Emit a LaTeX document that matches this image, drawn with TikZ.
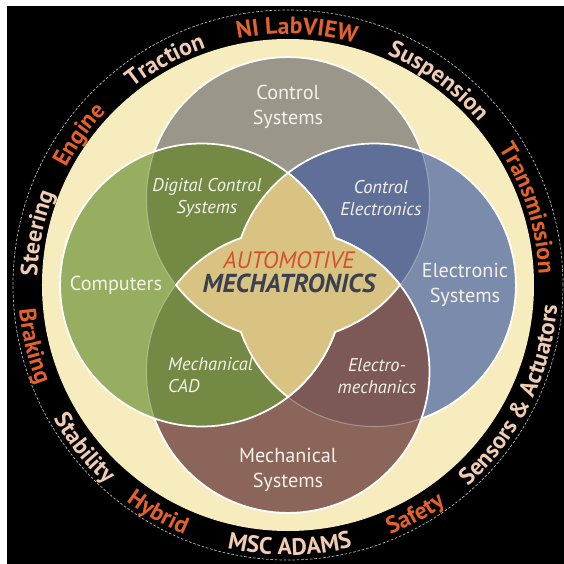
\documentclass[tikz,border=0pt]{standalone}
\usepackage{fontspec}
\setsansfont{PT Sans}
\usetikzlibrary{decorations.text}

\definecolor{ringorange}{RGB}{226,98,46}
\definecolor{ringlight}{RGB}{240,204,178}
\definecolor{cream}{RGB}{246,236,190}
\definecolor{ctrlgray}{RGB}{154,150,138}
\definecolor{compgreen}{RGB}{151,174,97}
\definecolor{darkgreen}{RGB}{116,137,68}
\definecolor{elecblue}{RGB}{123,139,171}
\definecolor{darkblue}{RGB}{95,111,151}
\definecolor{mechbrown}{RGB}{139,101,90}
\definecolor{darkbrown}{RGB}{124,89,86}
\definecolor{startan}{RGB}{216,195,131}
\definecolor{autored}{RGB}{214,80,40}
\definecolor{mechaslate}{RGB}{58,64,80}
\definecolor{labelwhite}{RGB}{244,242,232}

\newcommand{\ringfont}{\sffamily\bfseries\fontsize{13.5}{16}\selectfont}
\newcommand{\Rad}{2.83}

\begin{document}
\begin{tikzpicture}[font=\sffamily,
  venn/.style={draw=white, line width=1pt},
  faint/.style={draw=white, draw opacity=0.3, line width=0.6pt},
  biglabel/.style={text=labelwhite, align=center, font=\sffamily\fontsize{11.5}{14.2}\selectfont},
  smalllabel/.style={text=labelwhite, align=center, font=\sffamily\itshape\fontsize{10.5}{12.5}\selectfont},
  ringtext/.style={decorate, decoration={text along path, text align=center, text={#1}}}]

  \useasboundingbox (-5.76,-5.58) rectangle (5.52,5.70);
  \fill[white] (-5.76,-5.58) rectangle (5.52,5.70);

  % ---------- black ring and cream disc ----------
  \fill[black] (-5.62,-5.58) rectangle (5.52,5.58);
  \draw[gray!60, line width=0.4pt, dash pattern=on 1.5pt off 1pt] (0,0) circle (5.50);
  \fill[cream] (0,0) circle (4.92);

  % ---------- circle centres ----------
  \coordinate (ctop)   at (0,1.728);
  \coordinate (cleft)  at (-1.728,0);
  \coordinate (cright) at (1.728,0);
  \coordinate (cbot)   at (0,-1.728);

  % ---------- control systems (top) ----------
  \filldraw[fill=ctrlgray, venn] (ctop) circle (\Rad);

  % ---------- electronic systems (right) ----------
  \fill[elecblue] (cright) circle (\Rad);
  \begin{scope}
    \clip (cright) circle (\Rad);
    \fill[darkblue] (ctop) circle (\Rad);
    \draw[faint] (ctop) circle (\Rad);
  \end{scope}
  \draw[venn] (cright) circle (\Rad);

  % ---------- mechanical systems (bottom) ----------
  \fill[mechbrown] (cbot) circle (\Rad);
  \begin{scope}
    \clip (cbot) circle (\Rad);
    \fill[darkbrown] (cright) circle (\Rad);
    \draw[faint] (cright) circle (\Rad);
  \end{scope}
  \draw[venn] (cbot) circle (\Rad);

  % ---------- computers (left) ----------
  \fill[compgreen] (cleft) circle (\Rad);
  \begin{scope}
    \clip (cleft) circle (\Rad);
    \fill[darkgreen] (ctop) circle (\Rad);
    \fill[darkgreen] (cbot) circle (\Rad);
    \draw[faint] (ctop) circle (\Rad) (cbot) circle (\Rad);
  \end{scope}
  \draw[venn] (cleft) circle (\Rad);

  % ---------- centre star ----------
  \filldraw[fill=startan, venn] (0,2.241)
    arc[start angle=52.36, end angle=19.42, radius=\Rad]
    arc[start angle=70.58, end angle=37.64, radius=\Rad]
    arc[start angle=-37.64, end angle=-70.58, radius=\Rad]
    arc[start angle=-19.42, end angle=-52.36, radius=\Rad]
    arc[start angle=232.36, end angle=199.42, radius=\Rad]
    arc[start angle=250.58, end angle=217.64, radius=\Rad]
    arc[start angle=142.36, end angle=109.42, radius=\Rad]
    arc[start angle=160.58, end angle=127.64, radius=\Rad] -- cycle;

  % ---------- labels ----------
  \node[biglabel] (ctrl) at (0,3.56)     {Control\\Systems};
  \node[biglabel] (comp) at (-3.44,0)    {Computers};
  \node[biglabel] (elec) at (3.54,0)     {Electronic\\Systems};
  \node[biglabel] (mech) at (0,-3.70)    {Mechanical\\Systems};
  \node[smalllabel] (dcs)  at (-1.62,1.74) {Digital Control\\Systems};
  \node[smalllabel] (cel)  at (1.86,1.74)  {Control\\Electronics};
  \node[smalllabel, align=left, anchor=west] (cad) at (-2.52,-1.80) {Mechanical\\CAD};
  \node[smalllabel] (emech) at (1.78,-1.82) {Electro-\\mechanics};
  \node[align=center, font=\sffamily\itshape\fontsize{13.5}{13.4}\selectfont] (auto) at (0.02,0.25)
    {\textcolor{autored}{AUTOMOTIVE}\\\textcolor{mechaslate}{\fontsize{14.8}{13.4}\selectfont\bfseries MECHATRONICS}};

  % ---------- ring words, upper half (clockwise) ----------
  \path[ringtext={|\color{ringorange}\ringfont|NI LabVIEW}]  (118:5.02) arc[start angle=118, end angle=58, radius=5.02];
  \path[ringtext={|\color{ringlight}\ringfont|Traction}]     (148.7:5.02) arc[start angle=148.7, end angle=88.7, radius=5.02];
  \path[ringtext={|\color{ringorange}\ringfont|Engine}]      (174.3:5.02) arc[start angle=174.3, end angle=114.3, radius=5.02];
  \path[ringtext={|\color{ringlight}\ringfont|Steering}]     (198.3:5.02) arc[start angle=198.3, end angle=138.3, radius=5.02];
  \path[ringtext={|\color{ringlight}\ringfont|Suspension}]   (83.6:5.02) arc[start angle=83.6, end angle=23.6, radius=5.02];
  \path[ringtext={|\color{ringorange}\ringfont|Transmission}] (47.7:5.02) arc[start angle=47.7, end angle=-12.3, radius=5.02];

  % ---------- ring words, lower half (counter-clockwise) ----------
  \path[ringtext={|\color{ringorange}\ringfont|Braking}]     (163.5:5.40) arc[start angle=163.5, end angle=223.5, radius=5.40];
  \path[ringtext={|\color{ringlight}\ringfont|Stability}]    (188.7:5.40) arc[start angle=188.7, end angle=248.7, radius=5.40];
  \path[ringtext={|\color{ringorange}\ringfont|Hybrid}]      (210.3:5.40) arc[start angle=210.3, end angle=270.3, radius=5.40];
  \path[ringtext={|\color{ringlight}\ringfont|MSC ADAMS}]    (240.4:5.40) arc[start angle=240.4, end angle=300.4, radius=5.40];
  \path[ringtext={|\color{ringorange}\ringfont|Safety}]      (269:5.40) arc[start angle=269, end angle=329, radius=5.40];
  \path[ringtext={|\color{ringlight}\ringfont|Sensors {\&} Actuators}] (303.7:5.40) arc[start angle=303.7, end angle=363.7, radius=5.40];

\end{tikzpicture}
\end{document}
